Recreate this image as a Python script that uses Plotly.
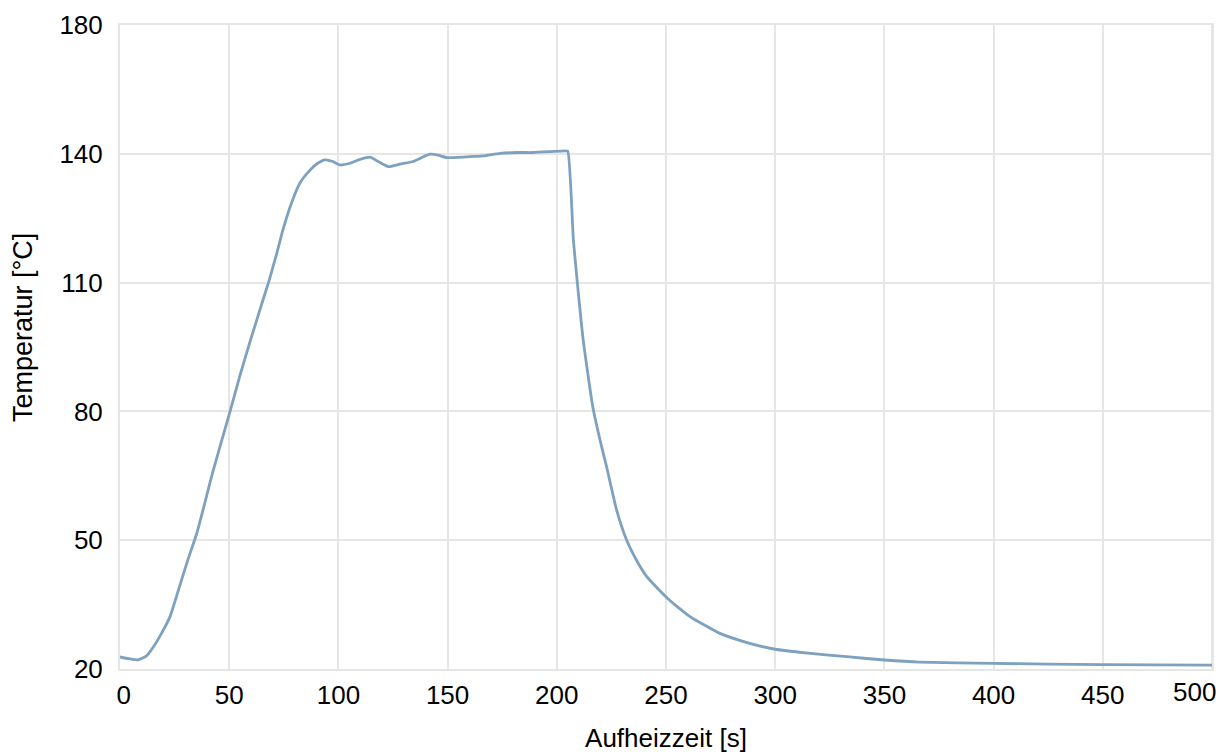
import plotly.graph_objects as go

# Data
time_s = [0, 4, 8.2, 12, 15.1, 19, 22.9, 27.5, 31, 35.1, 38.5, 42, 46, 50.4, 55, 60,
          65.5, 68, 71.5, 74.6, 78.5, 82.4, 87, 90.5, 93.9, 97.5, 100.7, 105.3, 109.9,
          114.5, 118.2, 122.8, 128.2, 134.2, 138, 141.9, 145.6, 149.7, 158.8, 166.2,
          174, 181.8, 189.1, 196.9, 203.8, 205, 207.6, 209.4, 212.1, 216.5, 219.8,
          222.8, 227.4, 232, 236, 241.2, 250.6, 261, 274.7, 287.5, 300, 315, 334, 350,
          366, 400, 450, 500]
temp_c = [22.8, 22.4, 22.1, 23.0, 25.0, 28.3, 32.2, 39.6, 45.3, 51.5, 58, 65, 72.2, 80,
          88.5, 97, 106, 110, 116.3, 122.3, 128.5, 133.2, 136.2, 137.8, 138.6, 138.2,
          137.4, 137.8, 138.7, 139.2, 138.2, 137.0, 137.6, 138.2, 139.1, 139.9, 139.7,
          139.1, 139.3, 139.5, 140.1, 140.3, 140.3, 140.5, 140.7, 140.6, 119.9, 110,
          96.6, 81, 73.3, 67.1, 57, 50, 45.8, 41.5, 36.5, 32.2, 28.3, 26.1, 24.6, 23.7,
          22.8, 22.1, 21.6, 21.3, 21.0, 20.9]

x_tickvals = [0, 50, 100, 150, 200, 250, 300, 350, 400, 450, 500]
x_ticktext = ["\u00a00", "50", "100", "150", "200", "250", "300", "350", "400", "450", "500"]
y_tickvals = [20, 50, 80, 110, 140, 170]
y_ticktext = ["20", "50", "80", "110", "140", "180"]
x_title = "Aufheizzeit [s]"
y_title = "Temperatur [°C]"

FONT = "Liberation Sans, Arial, sans-serif"
GRID = "#e6e6e6"

fig = go.Figure()
fig.add_trace(go.Scatter(
    x=time_s, y=temp_c, mode="lines",
    line=dict(color="#7da1be", width=2.8, shape="spline", smoothing=0.5),
    showlegend=False,
))

fig.update_layout(
    width=1228, height=756,
    margin=dict(l=120, r=16, t=25, b=87),
    paper_bgcolor="white", plot_bgcolor="white",
    font=dict(family=FONT, size=26, color="black"),
)
# last x label drawn right-aligned at its tick so it stays inside the page
fig.update_xaxes(
    range=[0, 500], tickvals=x_tickvals[:-1], ticktext=x_ticktext[:-1],
    showgrid=True, gridcolor=GRID, gridwidth=2,
    showline=True, linecolor=GRID, linewidth=2, mirror=True,
    zeroline=False, ticks="", ticklabelstandoff=2, ticklabeloverflow="allow",
    automargin=False,
    title=dict(text=x_title, standoff=20, font=dict(size=26)),
)
fig.add_vline(x=x_tickvals[-1], line=dict(color=GRID, width=2), layer="below")
fig.add_annotation(
    x=x_tickvals[-1], xref="x", y=-0.01, yref="paper",
    text=x_ticktext[-1], showarrow=False,
    xanchor="right", yanchor="top", xshift=6,
    font=dict(family=FONT, size=26, color="black"),
)
fig.update_yaxes(
    range=[20, 170], tickvals=y_tickvals, ticktext=y_ticktext,
    showgrid=True, gridcolor=GRID, gridwidth=2,
    showline=True, linecolor=GRID, linewidth=2, mirror=True,
    zeroline=False, ticks="", ticklabelstandoff=10, ticklabeloverflow="allow",
    automargin=False,
)
fig.add_annotation(
    x=-0.0888, xref="paper", y=0.5295, yref="paper",
    text=y_title, showarrow=False, textangle=-90,
    xanchor="center", yanchor="middle",
    font=dict(family=FONT, size=27, color="black"),
)

fig.write_html(
    "out.html",
    config={"displayModeBar": False},
    post_script="document.body.style.margin='0';document.body.style.padding='0';",
)
